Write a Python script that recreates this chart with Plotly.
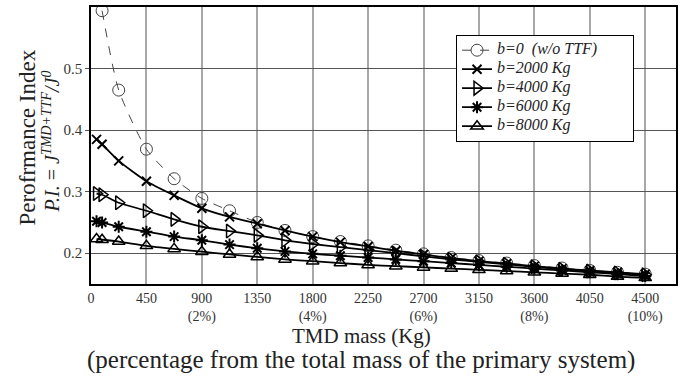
import plotly.graph_objects as go

# ---- data ----
mass_b0 = [90, 225, 450, 675, 900, 1125, 1350, 1575, 1800, 2025, 2250, 2475, 2700, 2925,
           3150, 3375, 3600, 3825, 4050, 4275, 4500]
mass = [45, 90, 225, 450, 675, 900, 1125, 1350, 1575, 1800, 2025, 2250, 2475, 2700, 2925,
        3150, 3375, 3600, 3825, 4050, 4275, 4500]

pi_b0 = [0.594, 0.465, 0.369, 0.321, 0.289, 0.269, 0.250, 0.237, 0.227, 0.219, 0.212, 0.205,
         0.199, 0.193, 0.188, 0.184, 0.180, 0.176, 0.172, 0.169, 0.166]
pi_b2000 = [0.385, 0.377, 0.350, 0.317, 0.294, 0.273, 0.259, 0.248, 0.237, 0.227, 0.218, 0.211,
            0.204, 0.198, 0.192, 0.187, 0.183, 0.179, 0.175, 0.172, 0.169, 0.166]
pi_b4000 = [0.297, 0.295, 0.282, 0.269, 0.255, 0.243, 0.236, 0.229, 0.221, 0.215, 0.210, 0.205,
            0.200, 0.195, 0.190, 0.186, 0.182, 0.178, 0.174, 0.171, 0.168, 0.165]
pi_b6000 = [0.252, 0.250, 0.243, 0.235, 0.227, 0.221, 0.214, 0.208, 0.203, 0.199, 0.196, 0.193,
            0.190, 0.187, 0.184, 0.181, 0.178, 0.175, 0.172, 0.169, 0.166, 0.163]
pi_b8000 = [0.223, 0.222, 0.219, 0.212, 0.207, 0.2025, 0.198, 0.194, 0.190, 0.187, 0.184, 0.181,
            0.179, 0.177, 0.175, 0.173, 0.171, 0.169, 0.167, 0.165, 0.162, 0.160]

x_tickvals = [0, 450, 900, 1350, 1800, 2250, 2700, 3150, 3600, 4050, 4500]
x_ticktext = ["0", "450", "900<br>(2%)", "1350", "1800<br>(4%)", "2250", "2700<br>(6%)",
              "3150", "3600<br>(8%)", "4050", "4500<br>(10%)"]
y_tickvals = [0.2, 0.3, 0.4, 0.5]
y_ticktext = ["0.2", "0.3", "0.4", "0.5"]

series_names = ["b=0  (w/o TTF)", "b=2000 Kg", "b=4000 Kg", "b=6000 Kg", "b=8000 Kg"]

styles = [
    ("circle-open", 12, "#444444", "dash", 1.0, 1.0),
    ("x-thin-open", 9, "black", "solid", 1.8, 2.0),
    ("triangle-right-open", 12, "black", "solid", 1.8, 1.5),
    ("asterisk-open", 10, "black", "solid", 1.8, 2.0),
    ("triangle-up-open", 11, "black", "solid", 1.8, 1.5),
]
xs_all = [mass_b0, mass, mass, mass, mass]
ys_all = [pi_b0, pi_b2000, pi_b4000, pi_b6000, pi_b8000]

SERIF = "Liberation Serif, Times New Roman, serif"

fig = go.Figure()
for i, (name, xs, ys, (sym, sz, col, dash, lw, mlw)) in enumerate(
        zip(series_names, xs_all, ys_all, styles)):
    label = '<span style="font-size:16px"><i>%s</i></span>' % name.replace("  ", "&nbsp;&nbsp;")
    if i == 0:
        label += "&nbsp;" * 11
    fig.add_trace(go.Scatter(
        x=xs, y=ys, mode="lines+markers", name=label,
        line=dict(color=col, width=lw, dash=dash, shape="spline", smoothing=0.6),
        marker=dict(symbol=sym, size=sz, color=col, line=dict(color=col, width=mlw)),
    ))

fig.update_layout(
    width=684, height=376,
    margin=dict(l=91, r=8, t=5, b=92),
    paper_bgcolor="white", plot_bgcolor="white",
    font=dict(family=SERIF, color="#222222"),
    showlegend=True,
    legend=dict(
        x=0.624, y=0.9, xanchor="left", yanchor="top",
        bgcolor="white", bordercolor="black", borderwidth=1,
        font=dict(family=SERIF, size=11, color="#222222"),
        tracegroupgap=0, itemwidth=30,
    ),
    xaxis=dict(
        range=[0, 4750], tickvals=x_tickvals, ticktext=x_ticktext,
        showgrid=True, gridcolor="#a8a8a8", gridwidth=1.5,
        showline=True, linecolor="black", linewidth=1.5, mirror=True,
        ticks="", zeroline=False,
        tickfont=dict(family=SERIF, size=14, color="#333333"),
    ),
    yaxis=dict(
        range=[0.15, 0.6], tickvals=y_tickvals, ticktext=y_ticktext,
        showgrid=True, gridcolor="#555555", gridwidth=1,
        showline=True, linecolor="black", linewidth=1.5, mirror=True,
        ticks="outside", ticklen=4, tickcolor="#555555", zeroline=False,
        tickfont=dict(family=SERIF, size=15, color="#333333"),
    ),
    annotations=[
        dict(text="Perofrmance Index", xref="paper", yref="paper", x=-0.109, y=0.53,
             xanchor="center", yanchor="middle", textangle=-90, showarrow=False,
             font=dict(family=SERIF, size=23, color="#222222")),
        dict(text="<i>P.I.</i> = <i>J</i><sup><i>TMD+TTF</i></sup><i>/J</i><sup><i>0</i></sup>",
             xref="paper", yref="paper", x=-0.068, y=0.515,
             xanchor="center", yanchor="middle", textangle=-90, showarrow=False,
             font=dict(family=SERIF, size=20, color="#222222")),
        dict(text="TMD mass (Kg)", xref="paper", yref="paper", x=0.462, y=-0.187,
             xanchor="center", yanchor="middle", showarrow=False,
             font=dict(family=SERIF, size=21, color="#222222")),
        dict(text="(percentage from the total mass of the primary system)",
             xref="paper", yref="paper", x=0.462, y=-0.274,
             xanchor="center", yanchor="middle", showarrow=False,
             font=dict(family=SERIF, size=25, color="#222222")),
    ],
)

fig.write_html("out.html", config={"displayModeBar": False},
               post_script="document.body.style.margin='0px';document.body.style.overflow='hidden';")
